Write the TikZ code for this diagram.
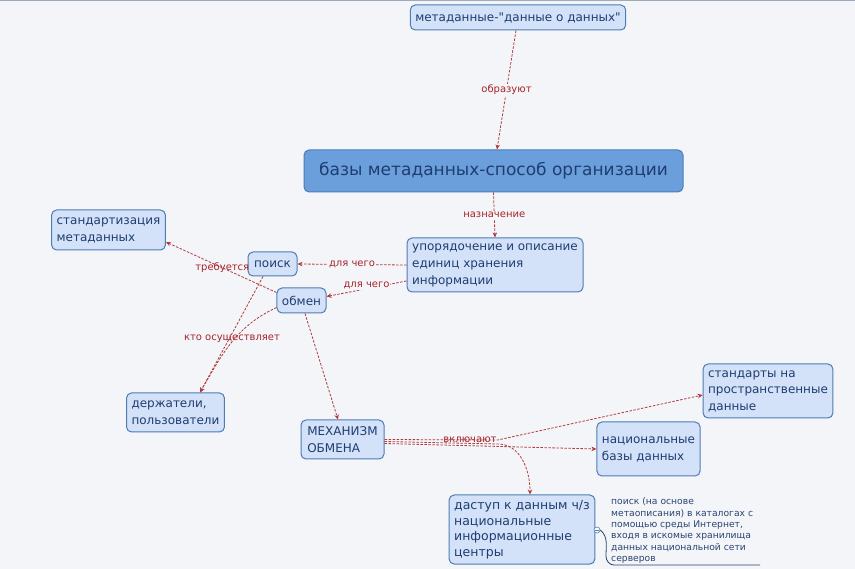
\documentclass[tikz,border=0pt]{standalone}
\usepackage{fontspec}
\setmainfont{DejaVu Sans}
\usetikzlibrary{arrows.meta}
\newcommand\strq{\XeTeXglyph\XeTeXcharglyph 34\relax}
\definecolor{bg}{HTML}{F3F5F9}
\definecolor{nodefill}{HTML}{D3E2F9}
\definecolor{nodeborder}{HTML}{4F7CB3}
\definecolor{nodetext}{HTML}{1F3D70}
\definecolor{bigfill}{HTML}{6B9FDC}
\definecolor{bigborder}{HTML}{4B7DB8}
\definecolor{conncol}{HTML}{B23A3A}
\definecolor{lblcol}{HTML}{A8242A}
\definecolor{notecol}{HTML}{2A4570}
\definecolor{topcol}{HTML}{9DAABB}
\begin{document}
\begin{tikzpicture}[x=1pt,y=-1pt,
  box/.style={draw=nodeborder, fill=nodefill, text=nodetext, rounded corners=5pt,
    line width=1pt, inner xsep=5pt, inner ysep=0pt, align=left,
    font=\fontsize{12}{17}\selectfont},
  bigbox/.style={box, fill=bigfill, draw=bigborder, font=\fontsize{17}{20}\selectfont},
  conn/.style={draw=conncol, line width=0.8pt, dash pattern=on 2.5pt off 1.5pt,
    -{Stealth[length=5pt,width=4.5pt]}},
  lbl/.style={text=lblcol, font=\fontsize{10}{12}\selectfont, inner sep=1pt},
  lblbg/.style={lbl, fill=bg},
  notetext/.style={text=notecol, align=left, inner sep=2pt,
    font=\fontsize{9.2}{11.4}\selectfont},
  noteline/.style={draw=notecol, line width=0.8pt}
]
\useasboundingbox (0,0) rectangle (855,569);
\fill[bg] (0,0) rectangle (855,569);
\draw[topcol, line width=1.5pt] (0,0.7) -- (855,0.7);

% nodes
\node[box, minimum width=214pt, minimum height=25pt] (meta) at (518,17.5) {метаданные-\strq данные о данных\strq};
\node[bigbox, minimum width=379pt, minimum height=42pt] (bases) at (493.5,171) {базы метаданных-способ организации};
\node[box, minimum width=176pt, minimum height=54pt] (upor) at (495,265) {упорядочение и описание\\ единиц хранения\\информации};
\node[box, minimum width=109pt, minimum height=40pt] (stdz) at (108.5,230) {стандартизация\\метаданных};
\node[box, minimum width=49pt, minimum height=24pt] (poisk) at (272.5,264) {поиск};
\node[box, minimum width=47pt, minimum height=25pt] (obmen) at (301.5,300.5) {обмен};
\node[box, minimum width=95pt, minimum height=39pt] (derzh) at (175.5,412.5) {держатели,\\пользователи};
\node[box, minimum width=83pt, minimum height=39pt] (mehan) at (342.5,439.5) {МЕХАНИЗМ\\ОБМЕНА};
\node[box, minimum width=126pt, minimum height=54pt, font=\fontsize{12}{16.5}\selectfont] (stprost) at (768,391) {стандарты на\\пространственные\\данные};
\node[box, minimum width=101pt, minimum height=54pt] (natbd) at (648.5,449) {национальные\\базы данных};
\node[box, minimum width=142pt, minimum height=69pt, font=\fontsize{12.5}{15.5}\selectfont] (dostup) at (522,529.5) {даступ к данным ч/з\\национальные\\информационные\\центры};
\node[notetext, anchor=north west] (note) at (609,495.5) {поиск (на основе\\метаописания) в каталогах с\\помощью среды Интернет,\\входя в искомые хранилища\\данных национальной сети\\серверов};

% connectors
\draw[conn] ([xshift=-2pt]meta.south) -- node[lblbg] {образуют} ([xshift=3.5pt]bases.north);
\draw[conn] (bases.south) -- node[lblbg] {назначение} (upor.north);
\draw[conn] (upor.west) -- node[lblbg] {для чего} (poisk.east);
\draw[conn] ([yshift=-16pt]upor.west) -- node[lblbg, yshift=3pt] {для чего} ([yshift=4pt]obmen.east);
\draw[conn] ([yshift=8pt]obmen.west) -- node[lbl, pos=0.49] {требуется} ([yshift=-12pt]stdz.east);
\draw[conn] ([xshift=-9.5pt]poisk.south) -- node[lbl, pos=0.54, xshift=3pt] {кто осуществляет} ([xshift=24.5pt]derzh.north);
\draw[conn] ([yshift=-7pt]obmen.west) to[out=205, in=60] ([xshift=24.5pt]derzh.north);
\draw[conn] ([xshift=3.5pt]obmen.south) -- ([xshift=-4.5pt]mehan.north);

\node[lbl] (incl) at (470,440) {включают};
\draw[conn] (mehan.east) -- (incl.east) -- ([yshift=-4pt]stprost.west);
\draw[conn] ([yshift=-4pt]mehan.east) -- (natbd.west);
\draw[conn] ([yshift=-2pt]mehan.east) -- ([yshift=-4pt]incl.east) to[out=0, in=90] ([xshift=8pt]dostup.north);

% note bracket
\node[circle, draw=nodeborder, fill=white, inner sep=0pt, minimum size=6pt, line width=0.6pt] (coll) at (597,530) {};
\draw[nodeborder, line width=0.6pt] ([xshift=-1.6pt]coll.center) -- ([xshift=1.6pt]coll.center);
\coordinate (nb1) at (606,556);
\coordinate (nb2) at (614,565);
\coordinate (noteend) at (760,565);
\draw[noteline] (coll.east) to[out=-40, in=90] (nb1) to[out=-90, in=180] (nb2) -- (noteend);
\end{tikzpicture}
\end{document}
